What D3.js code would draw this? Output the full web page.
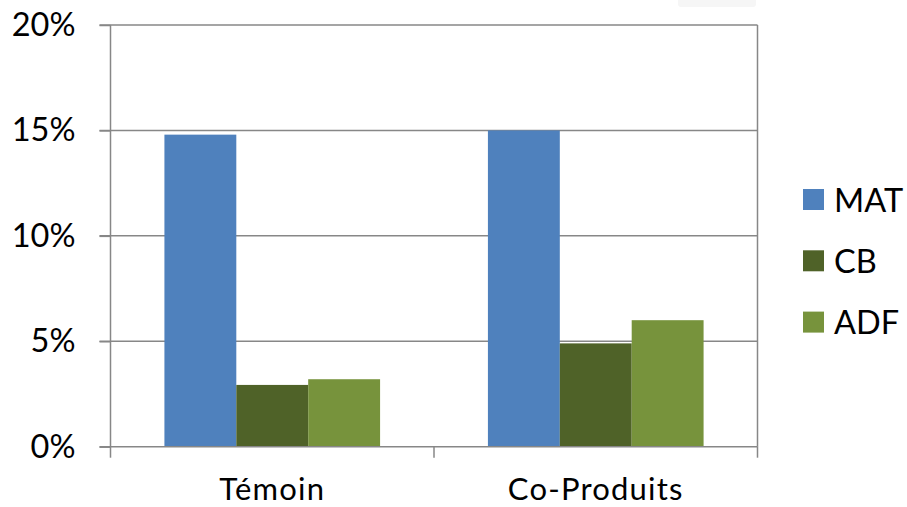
<!DOCTYPE html>
<html><head><meta charset="utf-8">
<script src="https://cdn.jsdelivr.net/npm/d3@7"></script>
<style>body{margin:0;background:#fff}svg{display:block}text{font-family:Lato,"Open Sans",sans-serif;fill:#000}</style>
</head><body><svg id="c" width="907" height="507"></svg>
<script>
const categories = ["Témoin", "Co-Produits"];
const seriesNames = ["MAT", "CB", "ADF"];
const MAT = [0.148, 0.150];
const CB = [0.0293, 0.049];
const ADF = [0.032, 0.060];
const yTicks = [0, 0.05, 0.10, 0.15, 0.20];
const yTickLabels = ["0%", "5%", "10%", "15%", "20%"];
const colors = ["#4F81BD", "#4F6228", "#77933C"];
const values = {MAT, CB, ADF};

const svg = d3.select("#c");
const L = 110.5, R = 757.5, T = 25, B = 446.7;
const y = d3.scaleLinear().domain([0, 0.20]).range([B, T]);
const x0 = d3.scaleBand().domain(categories).range([L, R]).padding(0);
const x1 = d3.scaleBand().domain(seriesNames).range([0, x0.bandwidth()]).paddingInner(0).paddingOuter(0.75);
const grid = "#878787";

// faint artifact top right
svg.append("rect").attr("x", 678).attr("y", -4).attr("width", 78).attr("height", 11).attr("rx", 3).attr("fill", "#f6f6f6");

// gridlines
svg.append("g").selectAll("line").data(yTicks.slice(1)).join("line")
  .attr("x1", L - 11).attr("x2", R).attr("y1", d => y(d)).attr("y2", d => y(d))
  .attr("stroke", grid).attr("stroke-width", 1.5);

// bars
const g = svg.append("g");
categories.forEach((c, i) => {
  seriesNames.forEach((s, j) => {
    g.append("rect")
      .attr("x", x0(c) + x1(s)).attr("width", x1.bandwidth())
      .attr("y", y(values[s][i])).attr("height", B - y(values[s][i]))
      .attr("fill", colors[j]);
  });
});

// y axis
const yAxis = d3.axisLeft(y).tickValues(yTicks).tickFormat((d, i) => yTickLabels[i]).tickSize(11).tickPadding(24);
const ya = svg.append("g").attr("transform", `translate(${L},0)`).call(yAxis);
ya.selectAll("line,path").attr("stroke", grid).attr("stroke-width", 1.5);
ya.select(".domain").attr("d", `M0,${T}V${B}`);
ya.selectAll("text").style("font-size", "32.5px").style("font-family", "Lato,'Open Sans',sans-serif").attr("fill", "#000");

// x axis
const xa = svg.append("g").attr("transform", `translate(0,${B})`);
xa.append("line").attr("x1", L - 11).attr("x2", R).attr("y1", 0).attr("y2", 0).attr("stroke", grid).attr("stroke-width", 1.5);
const bounds = [L, ...categories.map(c => x0(c) + x0.bandwidth())];
xa.selectAll("line.t").data(bounds).join("line").attr("class", "t")
  .attr("x1", d => d).attr("x2", d => d).attr("y1", 0).attr("y2", 11)
  .attr("stroke", grid).attr("stroke-width", 1.5);
xa.selectAll("text").data(categories).join("text")
  .attr("x", d => x0(d) + x0.bandwidth() / 2).attr("y", 53)
  .attr("text-anchor", "middle").style("font-size", "31px").style("letter-spacing", "1.2px").text(d => d);

// right plot border
svg.append("line").attr("x1", R).attr("x2", R).attr("y1", T).attr("y2", B)
  .attr("stroke", grid).attr("stroke-width", 1.5);

// legend
const lg = svg.append("g").attr("transform", "translate(803,189)");
seriesNames.forEach((s, i) => {
  const gi = lg.append("g").attr("transform", `translate(0,${i * 61.3})`);
  gi.append("rect").attr("width", 21).attr("height", 21).attr("fill", colors[i]);
  gi.append("text").attr("x", 31).attr("y", 22.5).style("font-size", "32.5px").text(s);
});
</script></body></html>
